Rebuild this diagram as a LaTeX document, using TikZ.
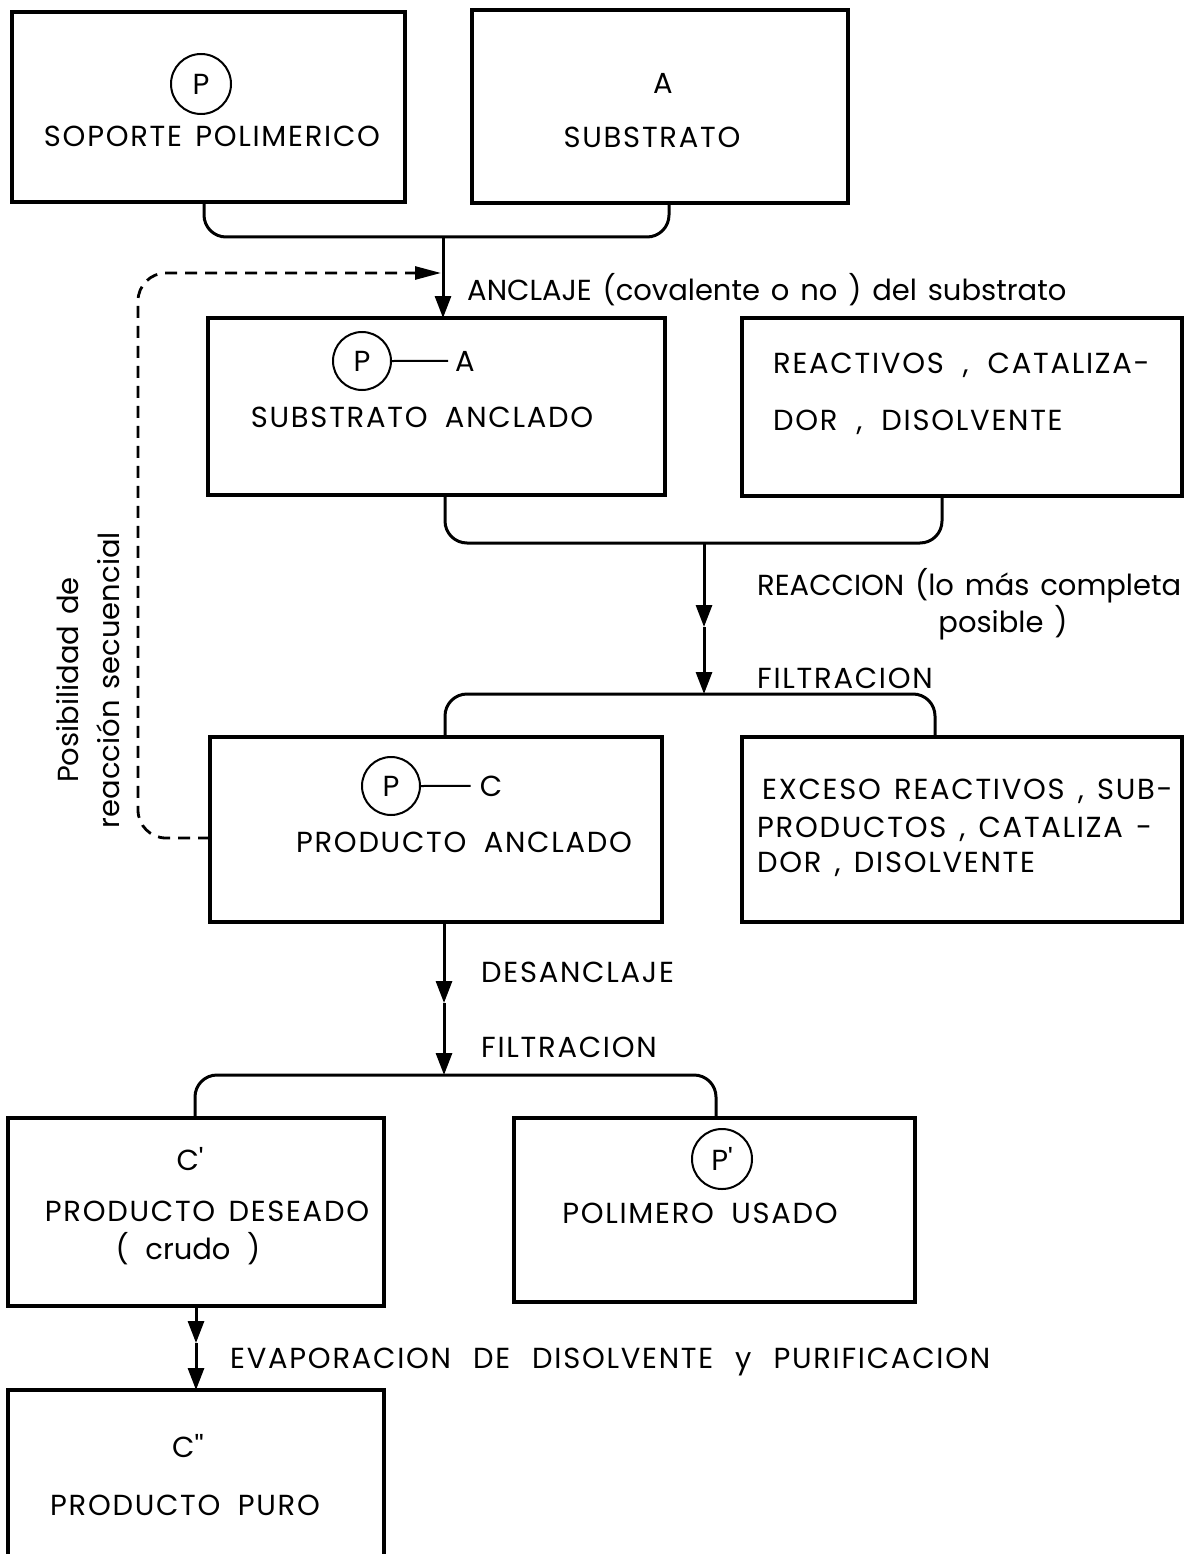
\documentclass[tikz,border=0pt]{standalone}
\usepackage{fontspec}
\setmainfont{Poppins}[LetterSpace=6,WordSpace=1.4]
\newfontfamily\minusc{Poppins}[WordSpace=1.4]
\usetikzlibrary{arrows.meta,positioning}

\tikzset{
  caja/.style={draw, line width=3.2pt, inner sep=0pt, outer sep=0pt},
  anillo/.style={draw, circle, line width=2pt, inner sep=0pt, minimum size=58pt},
  texto/.style={inner sep=0pt, font=\fontsize{29}{34}\selectfont},
  textomin/.style={inner sep=0pt, font=\fontsize{29}{34}\minusc},
  union/.style={line width=3pt, rounded corners=22pt},
  flecha/.style={line width=3pt, -{Triangle[length=22pt,width=16pt]}},
  retro/.style={line width=2.8pt, dash pattern=on 12pt off 8pt, rounded corners=28pt,
    -{Triangle[length=26pt,width=13pt]}}
}
\newcommand{\ap}{\textquotesingle}

\begin{document}
\begin{tikzpicture}[x=1pt,y=-1pt]
\useasboundingbox (0,0) rectangle (1190,1554);

% cajas
\node[caja, minimum width=393pt, minimum height=190pt] (soporte) at (208.5,107) {};
\node[caja, minimum width=376pt, minimum height=193pt] (substrato) at (660,106.5) {};
\node[caja, minimum width=457pt, minimum height=177pt] (anclado) at (436.5,406.5) {};
\node[caja, minimum width=440pt, minimum height=178pt] (reactivos) at (962,407) {};
\node[caja, minimum width=452pt, minimum height=185pt] (prodanc) at (436,829.5) {};
\node[caja, minimum width=440pt, minimum height=185pt] (exceso) at (962,829.5) {};
\node[caja, minimum width=376pt, minimum height=188pt] (deseado) at (196,1212) {};
\node[caja, minimum width=401pt, minimum height=184pt] (usado) at (714.5,1210) {};
\node[caja, minimum width=376pt, minimum height=190pt] (puro) at (196,1485) {};

% textos de las cajas
\node[texto, anillo, minimum size=60pt] (p1) at (201,84) {P};
\node[texto, anchor=base] (t1) at (212,147) {SOPORTE POLIMERICO};
\node[texto, anchor=base] (a1) at (663,94) {A};
\node[texto, anchor=base] (t2) at (652,148) {SUBSTRATO};

\node[texto, anillo] (p2) at (362,361) {P};
\node[texto, anchor=base] (a2) at (465,371) {A};
\draw[line width=2pt] (p2.east) -- ([xshift=-7pt]a2.west);
\node[texto, anchor=base] (t3) at (422,427) {SUBSTRATO\hspace{0.6em}ANCLADO};

\node[texto, anchor=base west] (t4a) at (773,373) {REACTIVOS\hspace{0.2em} ,\hspace{0.2em} CATALIZA-};
\node[texto, anchor=base west] (t4b) at (773,430) {DOR\hspace{0.2em} ,\hspace{0.2em} DISOLVENTE};

\node[texto, anillo] (p3) at (391,786) {P};
\node[texto, anchor=base] (c3) at (491,796) {C};
\draw[line width=2pt] (p3.east) -- ([xshift=-9pt]c3.west);
\node[texto, anchor=base] (t5) at (464,852) {PRODUCTO\hspace{0.6em}ANCLADO};

\node[texto, anchor=base west] (t6a) at (762,799) {EXCESO REACTIVOS , SUB-};
\node[texto, anchor=base west] (t6b) at (757,837) {PRODUCTOS , CATALIZA -};
\node[texto, anchor=base west] (t6c) at (757,872) {DOR , DISOLVENTE};

\node[texto, anchor=base] (c7) at (190,1170) {C\ap};
\node[texto, anchor=base] (t7a) at (207,1221) {PRODUCTO DESEADO};
\node[textomin, anchor=base] (t7b) at (188,1259) {(\hspace{0.2em} crudo\hspace{0.2em} )};

\node[texto, anillo, minimum size=60pt] (p8) at (722,1159) {P\ap};
\node[texto, anchor=base] (t8) at (700,1223) {POLIMERO\hspace{0.6em}USADO};

\node[texto, anchor=base] (c9) at (188,1457) {C\ap\ap};
\node[texto, anchor=base] (t9) at (185,1515) {PRODUCTO\hspace{0.6em}PURO};

% uniones y flechas
\coordinate (j1) at (443,237);
\draw[union] ([xshift=-4.5pt]soporte.south) |- (j1) -| ([xshift=9pt]substrato.south);
\draw[flecha] (j1) -- (j1 |- anclado.north);
\node[textomin, anchor=base west] (l1) at (467,300) {ANCLAJE (covalente o no ) del substrato};

\coordinate (j2) at (704,543);
\coordinate (m2) at (704,627);
\coordinate (j3) at (704,694);
\draw[union] ([xshift=8.5pt]anclado.south) |- (j2) -| ([xshift=-20pt]reactivos.south);
\draw[flecha] (j2) -- (m2);
\draw[flecha] (m2) -- (j3);
\draw[union] ([xshift=9pt]prodanc.north) |- (j3) -| ([xshift=-27pt]exceso.north);
\node[textomin, anchor=base west] (l2) at (757,595) {REACCION (lo más completa};
\node[textomin, anchor=base] (l3) at (1003,632) {posible )};
\node[texto, anchor=base west] (l4) at (757,688) {FILTRACION};

\coordinate (m4) at (444,1003);
\coordinate (j4) at (444,1075);
\draw[flecha] ([xshift=8pt]prodanc.south) -- (m4);
\draw[flecha] (m4) -- (j4);
\draw[union] ([xshift=-1pt]deseado.north) |- (j4) -| ([xshift=1.5pt]usado.north);
\node[texto, anchor=base west] (l5) at (481,982) {DESANCLAJE};
\node[texto, anchor=base west] (l6) at (481,1057) {FILTRACION};

\coordinate (m5) at (196,1343);
\draw[flecha] (deseado.south) -- (m5);
\draw[flecha] (m5) -- (puro.north);
\node[texto, anchor=base west] (l7) at (230,1368)
  {EVAPORACION\hspace{0.3em} DE\hspace{0.3em} DISOLVENTE\hspace{0.3em} y\hspace{0.3em} PURIFICACION};

% posibilidad de reaccion secuencial
\coordinate (retorno) at (441,273);
\draw[retro] ([yshift=-8.5pt]prodanc.west) -| (138,273) -- (retorno);
\node[textomin, rotate=90, align=center] (posib) at (88,680) {Posibilidad de\\[7pt]reacción secuencial};

\end{tikzpicture}
\end{document}
